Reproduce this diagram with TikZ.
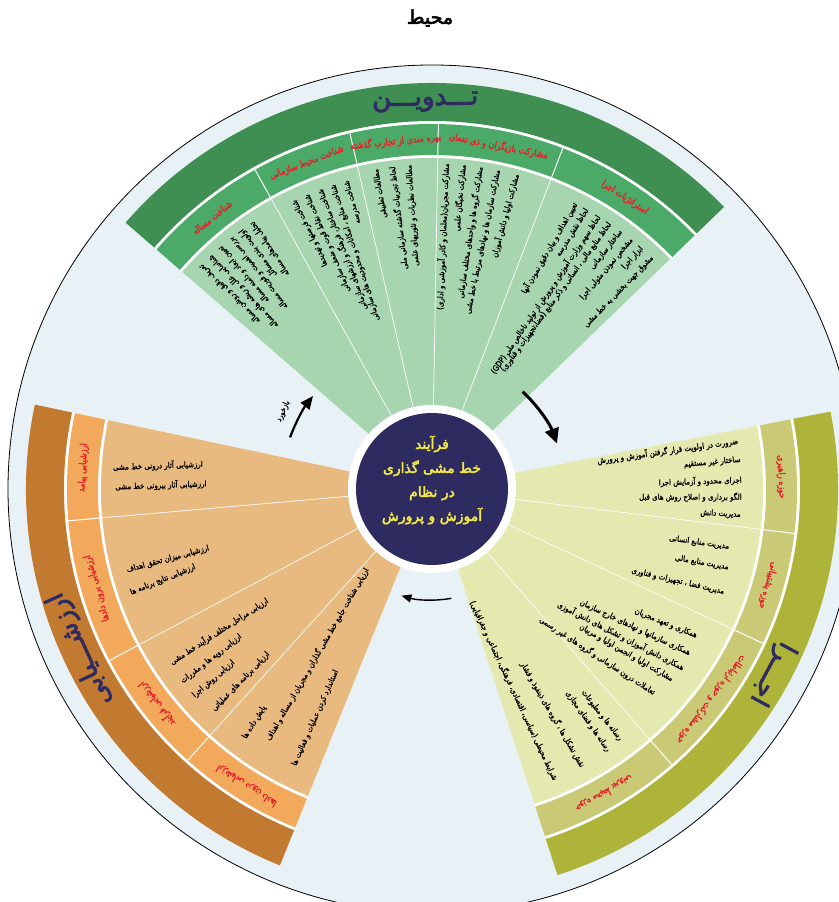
\documentclass[tikz,border=0pt]{standalone}
\usepackage{fontspec}
\usetikzlibrary{arrows.meta}
\TeXXeTstate=1
\newfontfamily\fabody[Script=Arabic,FakeBold=1.2,FakeStretch=0.88]{DejaVu Sans}
\newfontfamily\falab[Script=Arabic,FakeBold=2.5,FakeStretch=0.85]{DejaVu Sans}
\newfontfamily\fatitle[Script=Arabic,FakeBold=3]{DejaVu Sans}
\definecolor{bgc}{HTML}{E8F1F6}
\definecolor{gD}{HTML}{3F8E52}
\definecolor{gM}{HTML}{4BAA68}
\definecolor{gL}{HTML}{A6D5B0}
\definecolor{oD}{HTML}{C27A30}
\definecolor{oM}{HTML}{F3A95C}
\definecolor{oL}{HTML}{E8BA7F}
\definecolor{yD}{HTML}{AEB43A}
\definecolor{yM}{HTML}{CACA76}
\definecolor{yL}{HTML}{E3E9AF}
\definecolor{navy}{HTML}{2E2B60}
\definecolor{labred}{HTML}{E3222B}
\definecolor{ctr}{HTML}{F3E94A}
\newcommand\rt[5]{\node[#1,rotate=#3] (#2) at (#4) {#5};}
\newcommand\annsec[5]{\fill[#5] (#1:#3) arc[start angle=#1,end angle=#2,radius=#3] -- (#2:#4) arc[start angle=#2,end angle=#1,radius=#4] -- cycle;}
\newcommand\sector[4]{%
 \fill[white] (0,0) -- (#1:406) arc[start angle=#1,end angle=#2,radius=406] -- cycle;
 \fill[#3L] (0,0) -- (#1:331) arc[start angle=#1,end angle=#2,radius=331] -- cycle;
 \annsec{#1}{#2}{334}{365}{#3M}
 \annsec{#1}{#2}{368}{406}{#3D}
 \foreach \a in {#4}{\draw[white,line width=0.7] (\a:84) -- (\a:331); \draw[white,line width=1] (\a:334) -- (\a:365);}}
\newcommand\blab[3]{% name, angle, text
 \pgfmathsetmacro\rr{#2-90}
 \node[lab,rotate=\rr] (#1) at (#2:349.5) {#3};}
\tikzset{
 body/.style={font=\fabody\fontsize{8}{9}\selectfont, inner sep=0pt, text=black},
 gtx/.style={body, anchor=east},
 otx/.style={body, anchor=west},
 lab/.style={font=\falab\fontsize{9.5}{10}\selectfont, text=labred, inner sep=0pt},
 bigt/.style={font=\fatitle\fontsize{26}{28}\selectfont, text=navy, inner sep=0pt},
 ctrt/.style={font=\fatitle\fontsize{14}{24}\selectfont, text=ctr, align=center, inner sep=0pt},
}
\begin{document}
\begin{tikzpicture}[x=1pt,y=1pt]
\useasboundingbox (-432,-413) rectangle (406,489);
\fill[white] (-432,-413) rectangle (406,489);
\node[font=\fatitle\fontsize{19}{20}\selectfont, inner sep=0pt] (env) at (-2,471) {\beginR محیط\endR};
\draw[fill=bgc, line width=0.8] (0,0) circle[radius=424];

% sectors
\sector{44}{139}{g}{119,103,89,69}
\sector{168}{248}{o}{185,208,228}
\sector{-72}{11}{y}{-7,-25,-49}

% band titles
\node[bigt,rotate=1] (tT) at (91:387) {\beginR تـــدویـــن\endR};
\node[bigt,rotate=114.5] (tE) at (204.5:387) {\beginR ارزشـــیابی\endR};
\node[bigt,rotate=-118.5] (tA) at (-28.5:387) {\beginR اجـــرا\endR};

% band labels
\blab{gl1}{129}{\beginR شناخت مساله\endR}
\blab{gl2}{111}{\beginR شناخت محیط سازمانی\endR}
\blab{gl3}{96}{\beginR بهره مندی از تجارب گذشته\endR}
\blab{gl4}{79}{\beginR مشارکت بازیگران و ذی نفعان\endR}
\blab{gl5}{56.5}{\beginR استراتژیات اجرا\endR}
\blab{ol1}{176.5}{\beginR ارزشیابی پیامد\endR}
\blab{ol2}{196.5}{\beginR ارزشیابی برون دادها\endR}
\blab{ol3}{218}{\beginR ارزشیابی فرآیند\endR}
\blab{ol4}{238}{\beginR ارزشیابی درون دادها\endR}
\blab{yl1}{2}{\beginR حوزه راهبری\endR}
\blab{yl2}{-16}{\beginR حوزه پشتیبانی\endR}
\blab{yl3}{-37}{\beginR حوزه مشارکت و حوزه ارتباطات\endR}
\blab{yl4}{-60.5}{\beginR حوزه محیط بیرونی\endR}

% green texts
\rt{gtx}{g1a}{136}{136:322}{\beginR تعریف دقیق و روشن مساله\endR}
\rt{gtx}{g1b}{133.6}{133.6:322}{\beginR شناسایی علل و ریشه های مساله\endR}
\rt{gtx}{g1c}{131.2}{131.2:322}{\beginR تعیین ابعاد و دامنه مساله\endR}
\rt{gtx}{g1d}{128.8}{128.8:322}{\beginR بررسی اهمیت و فوریت مساله\endR}
\rt{gtx}{g1e}{126.4}{126.4:322}{\beginR اولویت بندی مسائل\endR}
\rt{gtx}{g1f}{124}{124:322}{\beginR تحلیل پیامدهای مساله\endR}

\rt{gtx}{g2a}{115.5}{115.5:320}{\beginR شناخت فرصتها و تهدیدها\endR}
\rt{gtx}{g2b}{113}{113:320}{\beginR شناخت نقاط قوت و ضعف سازمانی\endR}
\rt{gtx}{g2c}{110.5}{110.5:320}{\beginR شناخت ساختار، فرهنگ و ارزشهای سازمانی\endR}
\rt{gtx}{g2d}{108}{108:320}{\beginR شناخت منابع ، امکانات و محدودیت های سازمانی\endR}
\rt{gtx}{g2e}{105.5}{105.5:320}{\beginR شناخت مدرسه\endR}

\rt{gtx}{g3a}{100}{100:325}{\beginR مطالعات تطبیقی\endR}
\rt{gtx}{g3b}{97}{97:325}{\beginR لحاظ تجربیات گذشته سازمانی ملی\endR}
\rt{gtx}{g3c}{94}{94:325}{\beginR مطالعات نظریات و تئوریهای علمی\endR}

\rt{gtx}{g4a}{87.5}{87.5:326}{\beginR مشارکت مجریان(معلمان و کادر آموزشی و اداری)\endR}
\rt{gtx}{g4b}{84.5}{84.5:326}{\beginR مشارکت نخبگان علمی\endR}
\rt{gtx}{g4c}{81.5}{81.5:326}{\beginR مشارکت گروه ها و واحدهای مختلف سازمانی\endR}
\rt{gtx}{g4d}{78.3}{78.3:326}{\beginR مشارکت سازمان ها و نهادهای مرتبط با خط مشی\endR}
\rt{gtx}{g4e}{75}{75:326}{\beginR مشارکت اولیا و دانش آموزان\endR}

\rt{gtx}{g5a}{60}{63.4:320}{\beginR تعیین اهداف و بیان دقیق نمودن آنها\endR}
\rt{gtx}{g5b}{58}{61:320}{\beginR لحاظ نقش مدرسه\endR}
\rt{gtx}{g5c}{56}{58.6:320}{\beginR لحاظ سهم وزارت آموزش و پرورش از تولید ناخالص ملی \beginL(GDP)\endL\endR}
\rt{gtx}{g5d}{54}{56.2:320}{\beginR لحاظ منابع مالی ، انسانی و ذکر منابع (فضا،تجهیزات و فناوری)\endR}
\rt{gtx}{g5e}{52}{53.8:320}{\beginR ساختار سازمانی\endR}
\rt{gtx}{g5f}{50}{51.4:320}{\beginR مشخص نمودن متولی اجرا\endR}
\rt{gtx}{g5g}{48}{49:320}{\beginR ابزار اجرا\endR}
\rt{gtx}{g5h}{46}{46.5:320}{\beginR مشوق جهت بخشی به خط مشی\endR}

% yellow texts
\rt{gtx}{y1a}{8}{8.9:310}{\beginR ضرورت در اولویت قرار گرفتن آموزش و پرورش\endR}
\rt{gtx}{y1b}{5}{5.4:310}{\beginR ساختار غیر مستقیم\endR}
\rt{gtx}{y1c}{2}{1.7:310}{\beginR اجرای محدود و آزمایش اجرا\endR}
\rt{gtx}{y1d}{0}{-1.5:310}{\beginR الگو برداری و اصلاح روش های قبل\endR}
\rt{gtx}{y1e}{-3}{-4.8:310}{\beginR مدیریت دانش\endR}

\rt{gtx}{y2a}{-8}{-11:303}{\beginR مدیریت منابع انسانی\endR}
\rt{gtx}{y2b}{-10}{-14.8:307}{\beginR مدیریت منابع مالی\endR}
\rt{gtx}{y2c}{-13}{-19.4:310}{\beginR مدیریت فضا ، تجهیزات و فناوری\endR}

\rt{gtx}{y3a}{-22}{-29:303}{\beginR همکاری و تعهد مجریان\endR}
\rt{gtx}{y3b}{-25}{-32.5:306}{\beginR همکاری سازمانها و نهادهای خارج سازمان\endR}
\rt{gtx}{y3c}{-27}{-35.4:309}{\beginR همکاری دانش آموزان و تشکل های دانش آموزی\endR}
\rt{gtx}{y3d}{-30}{-38.4:307}{\beginR مشارکت اولیا و انجمن اولیا و مربیان\endR}
\rt{gtx}{y3e}{-33}{-42.5:302}{\beginR تعاملات درون سازمانی و گروه های غیر رسمی\endR}

\rt{gtx}{y4a}{-52}{-53:314}{\beginR رسانه ها و مطبوعات\endR}
\rt{gtx}{y4b}{-55}{-56:316}{\beginR رسانه ها و فضای مجازی\endR}
\rt{gtx}{y4c}{-60}{-61.5:316}{\beginR نقش تشکل ها ، گروه های ذینفوذ و فشار\endR}
\rt{gtx}{y4d}{-65}{-67:316}{\beginR شرایط محیطی (سیاسی، اقتصادی، فرهنگی، اجتماعی و جغرافیایی)\endR}

% orange texts
\rt{otx}{o1a}{2}{176.1:320}{\beginR ارزشیابی آثار درونی خط مشی\endR}
\rt{otx}{o1b}{2}{179.6:317}{\beginR ارزشیابی آثار بیرونی خط مشی\endR}
\rt{otx}{o2a}{15}{194.9:316}{\beginR ارزشیابی میزان تحقق اهداف\endR}
\rt{otx}{o2b}{22}{199:319}{\beginR ارزشیابی نتایج برنامه ها\endR}
\rt{otx}{o3a}{33}{213.6:314}{\beginR ارزیابی مراحل مختلف فرآیند خط مشی\endR}
\rt{otx}{o3b}{38}{217.6:316}{\beginR ارزیابی رویه ها و مقررات\endR}
\rt{otx}{o3c}{41}{221:316}{\beginR ارزیابی روش اجرا\endR}
\rt{otx}{o3d}{46}{225.3:311}{\beginR ارزیابی برنامه های عملیاتی\endR}
\rt{otx}{o4a}{58}{233:312}{\beginR پایش داده ها\endR}
\rt{otx}{o4b}{60}{236.8:300}{\beginR ارزیابی شناخت جامع خط مشی گذاران و مجریان از مساله و اهداف\endR}
\rt{otx}{o4c}{66}{243.5:309}{\beginR استاندارد کردن عملیات و فعالیت ها\endR}

% centre
\fill[white] (0,0) circle[radius=84];
\fill[navy] (0,0) circle[radius=76];
\node[ctrt] (ctxt) at (0,9) {\beginR فرآیند\endR\\\beginR خط مشی گذاری\endR\\\beginR در نظام\endR\\\beginR آموزش و پرورش\endR};

% arrows
\coordinate (a1s) at (47:133);
\coordinate (a2s) at (280:111);
\coordinate (a3s) at (160:151);
\draw[line width=3, -{Triangle[length=15pt,width=14pt]}] (a1s) arc[start angle=47,end angle=20,radius=133];
\draw[line width=1.4, -{Triangle[length=10pt,width=8pt]}] (a2s) arc[start angle=280,end angle=254,radius=111];
\draw[line width=2.2, -{Triangle[length=13pt,width=11pt]}] (a3s) arc[start angle=160,end angle=142,radius=151];
\node[font=\fabody\fontsize{8}{9}\selectfont, rotate=66, inner sep=0pt] (fb) at (152.4:168) {\beginR بازخورد\endR};
\end{tikzpicture}
\end{document}
